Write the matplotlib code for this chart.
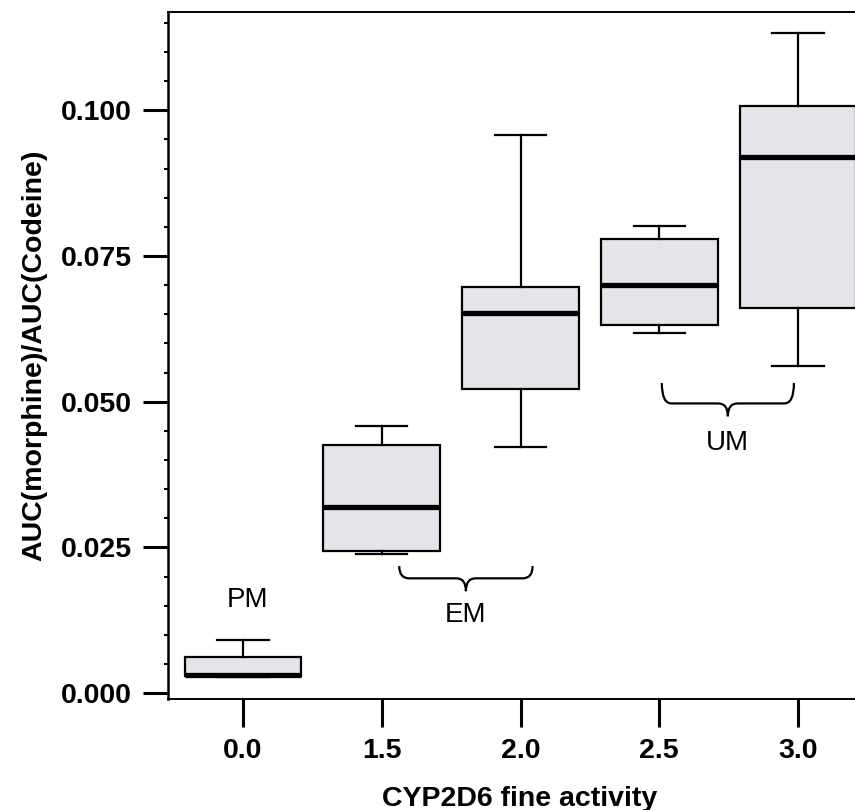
import numpy as np
import matplotlib
matplotlib.use("Agg")
import matplotlib.pyplot as plt
from matplotlib.path import Path
from matplotlib.patches import PathPatch
from matplotlib.ticker import MultipleLocator

plt.rcParams['font.family'] = ['Liberation Sans', 'DejaVu Sans']

# data
categories = ["0.0", "1.5", "2.0", "2.5", "3.0"]
whislo = [0.0027, 0.0238, 0.0422, 0.0618, 0.0561]
q1 = [0.0030, 0.0244, 0.0521, 0.0631, 0.0660]
med = [0.0032, 0.0319, 0.0652, 0.0700, 0.0919]
q3 = [0.0062, 0.0425, 0.0696, 0.0779, 0.1007]
whishi = [0.0091, 0.0458, 0.0957, 0.0801, 0.1132]

groups = ["PM", "EM", "UM"]

stats = []
for i in range(len(categories)):
    stats.append(dict(whislo=whislo[i], q1=q1[i], med=med[i], q3=q3[i],
                      whishi=whishi[i], label=categories[i]))

fig = plt.figure(figsize=(8.55, 8.1), dpi=100)
ax = fig.add_axes([168/855, 1-699/810, 687/855, 687.3/810])

pos = np.arange(len(categories))
ax.bxp(stats, positions=pos, widths=0.84, capwidths=0.37, patch_artist=True,
       showfliers=False,
       boxprops=dict(facecolor="#e5e4ea", edgecolor="black", linewidth=1.6),
       medianprops=dict(color="black", linewidth=3.8, solid_capstyle="butt"),
       whiskerprops=dict(color="black", linewidth=1.6),
       capprops=dict(color="black", linewidth=1.6))

ax.set_xlim(-0.54, 4.41)
ax.set_ylim(-0.001, 0.1169)
ax.set_xticks(pos)
ax.set_xticklabels(categories)
ax.yaxis.set_major_locator(MultipleLocator(0.025))
ax.yaxis.set_minor_locator(MultipleLocator(0.005))
ax.yaxis.set_major_formatter(matplotlib.ticker.FormatStrFormatter("%.3f"))

ax.spines["right"].set_visible(False)
ax.spines["left"].set_linewidth(1.8)
ax.spines["top"].set_linewidth(1.4)
ax.spines["bottom"].set_linewidth(1.4)

ax.tick_params(axis="y", which="major", length=18, width=2.2, pad=8,
               labelsize=20.5)
ax.tick_params(axis="y", which="minor", length=3, width=1.5)
ax.tick_params(axis="x", which="major", length=20, width=2.2, pad=8,
               labelsize=20.5)
for lab in ax.get_xticklabels() + ax.get_yticklabels():
    lab.set_fontweight("bold")

ax.set_xlabel("CYP2D6 fine activity", fontsize=20.5, fontweight="bold")
ax.xaxis.set_label_coords(0.512, -0.126)
ax.set_ylabel("AUC(morphine)/AUC(Codeine)", fontsize=20.5, fontweight="bold")
ax.yaxis.set_label_coords(-0.175, 0.5)


def brace(ax, x0, x1, ytop, yline, ytip, dx=0.07):
    xm = (x0 + x1) / 2
    verts = [(x0, ytop), (x0, yline), (x0 + dx, yline),
             (xm - dx, yline), (xm, yline), (xm, ytip),
             (xm, yline), (xm + dx, yline),
             (x1 - dx, yline), (x1, yline), (x1, ytop)]
    codes = [Path.MOVETO, Path.CURVE3, Path.CURVE3,
             Path.LINETO, Path.CURVE3, Path.CURVE3,
             Path.CURVE3, Path.CURVE3,
             Path.LINETO, Path.CURVE3, Path.CURVE3]
    ax.add_patch(PathPatch(Path(verts, codes), facecolor="none",
                           edgecolor="black", linewidth=1.6))


brace(ax, 1.126, 2.087, 0.0218, 0.0197, 0.0175)
brace(ax, 3.018, 3.97, 0.0532, 0.0497, 0.0475)

ax.text(0.03, 0.0160, groups[0], ha="center", va="center", fontsize=20)
ax.text(1.603, 0.0134, groups[1], ha="center", va="center", fontsize=20)
ax.text(3.49, 0.0429, groups[2], ha="center", va="center", fontsize=20)

fig.savefig("out.png", dpi=100)
